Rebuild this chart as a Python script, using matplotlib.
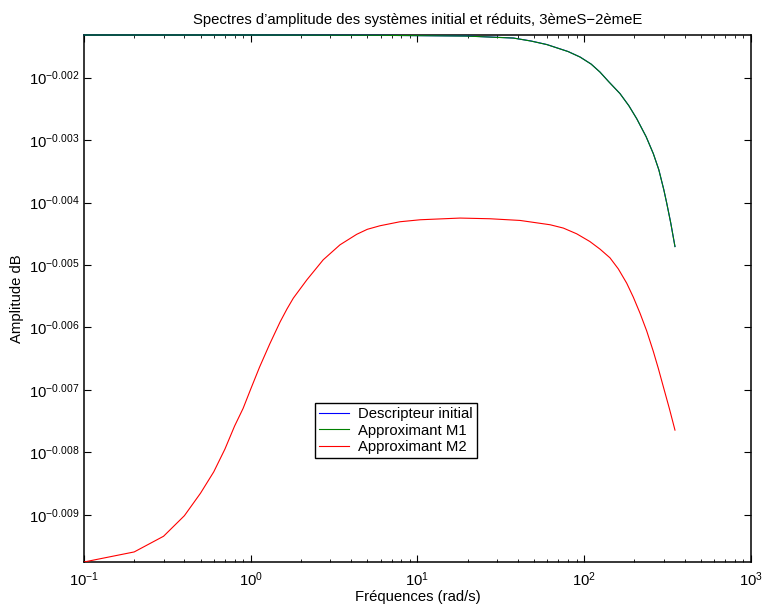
"""
Amplitude spectra of the initial descriptor system and its two reduced
approximants (3emeS-2emeE), log-log axes, MATLAB-like look.
"""

import numpy as np
import matplotlib

matplotlib.use("Agg")
import matplotlib.pyplot as plt
from matplotlib.ticker import NullLocator, LogLocator

# Frequencies (rad/s) and amplitudes given as log10 exponents
freq_initial = [0.1, 1.0, 5.96, 19.7, 37.6, 48.0, 59.6, 80.0, 94.4, 110.0, 124.3, 140.0,
                163.8, 185.0, 206.3, 235.0, 259.6, 280.0, 300.0, 312.0, 330.0, 350.0]
exp_initial = [-0.001319, -0.001319, -0.001324, -0.001335, -0.001367, -0.001415, -0.001471,
               -0.001583, -0.001671, -0.001784, -0.001912, -0.002064, -0.002256, -0.002449,
               -0.002657, -0.002946, -0.003218, -0.003475, -0.003795, -0.004004, -0.004324,
               -0.004704]

freq_m1 = freq_initial
exp_m1 = [-0.001319, -0.001319, -0.001324, -0.001336, -0.001368, -0.001416, -0.001472,
          -0.001584, -0.001672, -0.001785, -0.001913, -0.002065, -0.002257, -0.002450,
          -0.002658, -0.002947, -0.003219, -0.003476, -0.003796, -0.004005, -0.004325,
          -0.004706]

freq_m2 = [0.1, 0.2, 0.3, 0.4, 0.5, 0.6, 0.7, 0.8, 0.9, 1.0, 1.13, 1.3, 1.5, 1.65, 1.8,
           2.17, 2.72, 3.43, 4.32, 5.0, 5.96, 7.85, 10.4, 18.0, 27.2, 41.2, 62.4, 74.9,
           90.1, 108.0, 124.3, 142.6, 160.0, 179.7, 196.9, 216.0, 236.9, 259.6, 278.0,
           298.0, 323.7, 350.0]
exp_m2 = [-0.009754, -0.009593, -0.009342, -0.009013, -0.008652, -0.008311, -0.007947,
          -0.007578, -0.007295, -0.006985, -0.006633, -0.006264, -0.005911, -0.005703,
          -0.005531, -0.005238, -0.004917, -0.004677, -0.004509, -0.004429, -0.004372,
          -0.004308, -0.004276, -0.004249, -0.004260, -0.004287, -0.004356, -0.004409,
          -0.004501, -0.004624, -0.004746, -0.004885, -0.005062, -0.005291, -0.005515,
          -0.005772, -0.006056, -0.006384, -0.006654, -0.006948, -0.007295, -0.007643]

labels = ["Descripteur initial", "Approximant M1", "Approximant M2"]
ytick_exponents = [-0.002, -0.003, -0.004, -0.005, -0.006, -0.007, -0.008, -0.009]

plt.rcParams["font.family"] = ["Liberation Sans", "DejaVu Sans"]
plt.rcParams["mathtext.fontset"] = "custom"
plt.rcParams["mathtext.rm"] = "Liberation Sans"
plt.rcParams["mathtext.it"] = "Liberation Sans:italic"
plt.rcParams["mathtext.bf"] = "Liberation Sans:bold"
plt.rcParams["font.size"] = 10.7


def main() -> None:
    fig = plt.figure(figsize=(7.65, 6.10), dpi=100)
    ax = fig.add_axes([0.1098, 0.0787, 0.8719, 0.8639])

    amp_initial = 10.0 ** np.array(exp_initial)
    amp_m1 = 10.0 ** np.array(exp_m1)
    amp_m2 = 10.0 ** np.array(exp_m2)

    # the flat part of the top curves sits on the upper frame, keep it visible
    ax.loglog(freq_initial, amp_initial, color=(0, 0, 1), lw=0.8, label=labels[0],
              zorder=3, clip_on=False)
    ax.loglog(freq_m1, amp_m1, color=(0, 0.5, 0), lw=0.8, label=labels[1],
              zorder=3, clip_on=False)
    ax.loglog(freq_m2, amp_m2, color=(1, 0, 0), lw=0.8, label=labels[2], zorder=3)

    ax.set_xlim(0.1, 1000)
    all_amp = np.concatenate([amp_initial, amp_m1, amp_m2])
    ax.set_ylim(all_amp.min(), all_amp.max())

    ax.xaxis.set_major_locator(LogLocator(base=10, numticks=10))
    ax.xaxis.set_minor_locator(LogLocator(base=10, subs=np.arange(2, 10), numticks=20))

    ax.set_yticks([10.0 ** e for e in ytick_exponents])
    ax.set_yticklabels([r"$10^{%.3f}$" % e for e in ytick_exponents])
    ax.yaxis.set_minor_locator(NullLocator())

    ax.tick_params(which="both", direction="in", top=True, right=True, labelsize=10.7)
    ax.tick_params(which="major", length=5, width=0.8)
    ax.tick_params(which="minor", length=2.5, width=0.6)
    ax.tick_params(axis="x", which="major", pad=6)
    for spine in ax.spines.values():
        spine.set_linewidth(1.1)

    ax.set_title("Spectres d\u2019amplitude des syst\u00e8mes initial et r\u00e9duits, "
                 "3\u00e8meS\u22122\u00e8meE", fontsize=10.7, pad=8)
    ax.set_xlabel("Fr\u00e9quences (rad/s)", fontsize=10.7, labelpad=1)
    ax.set_ylabel("Amplitude dB", fontsize=10.7, labelpad=3)

    leg = ax.legend(loc="upper left", bbox_to_anchor=(0.346, 0.302), fancybox=False,
                    framealpha=1, edgecolor="black", fontsize=10.7, handlelength=2.0,
                    labelspacing=0.15, borderpad=0.3, handletextpad=0.6,
                    borderaxespad=0)
    leg.get_frame().set_linewidth(1.0)
    leg.set_zorder(5)

    fig.savefig("out.png", dpi=100, facecolor="white")


if __name__ == "__main__":
    main()
